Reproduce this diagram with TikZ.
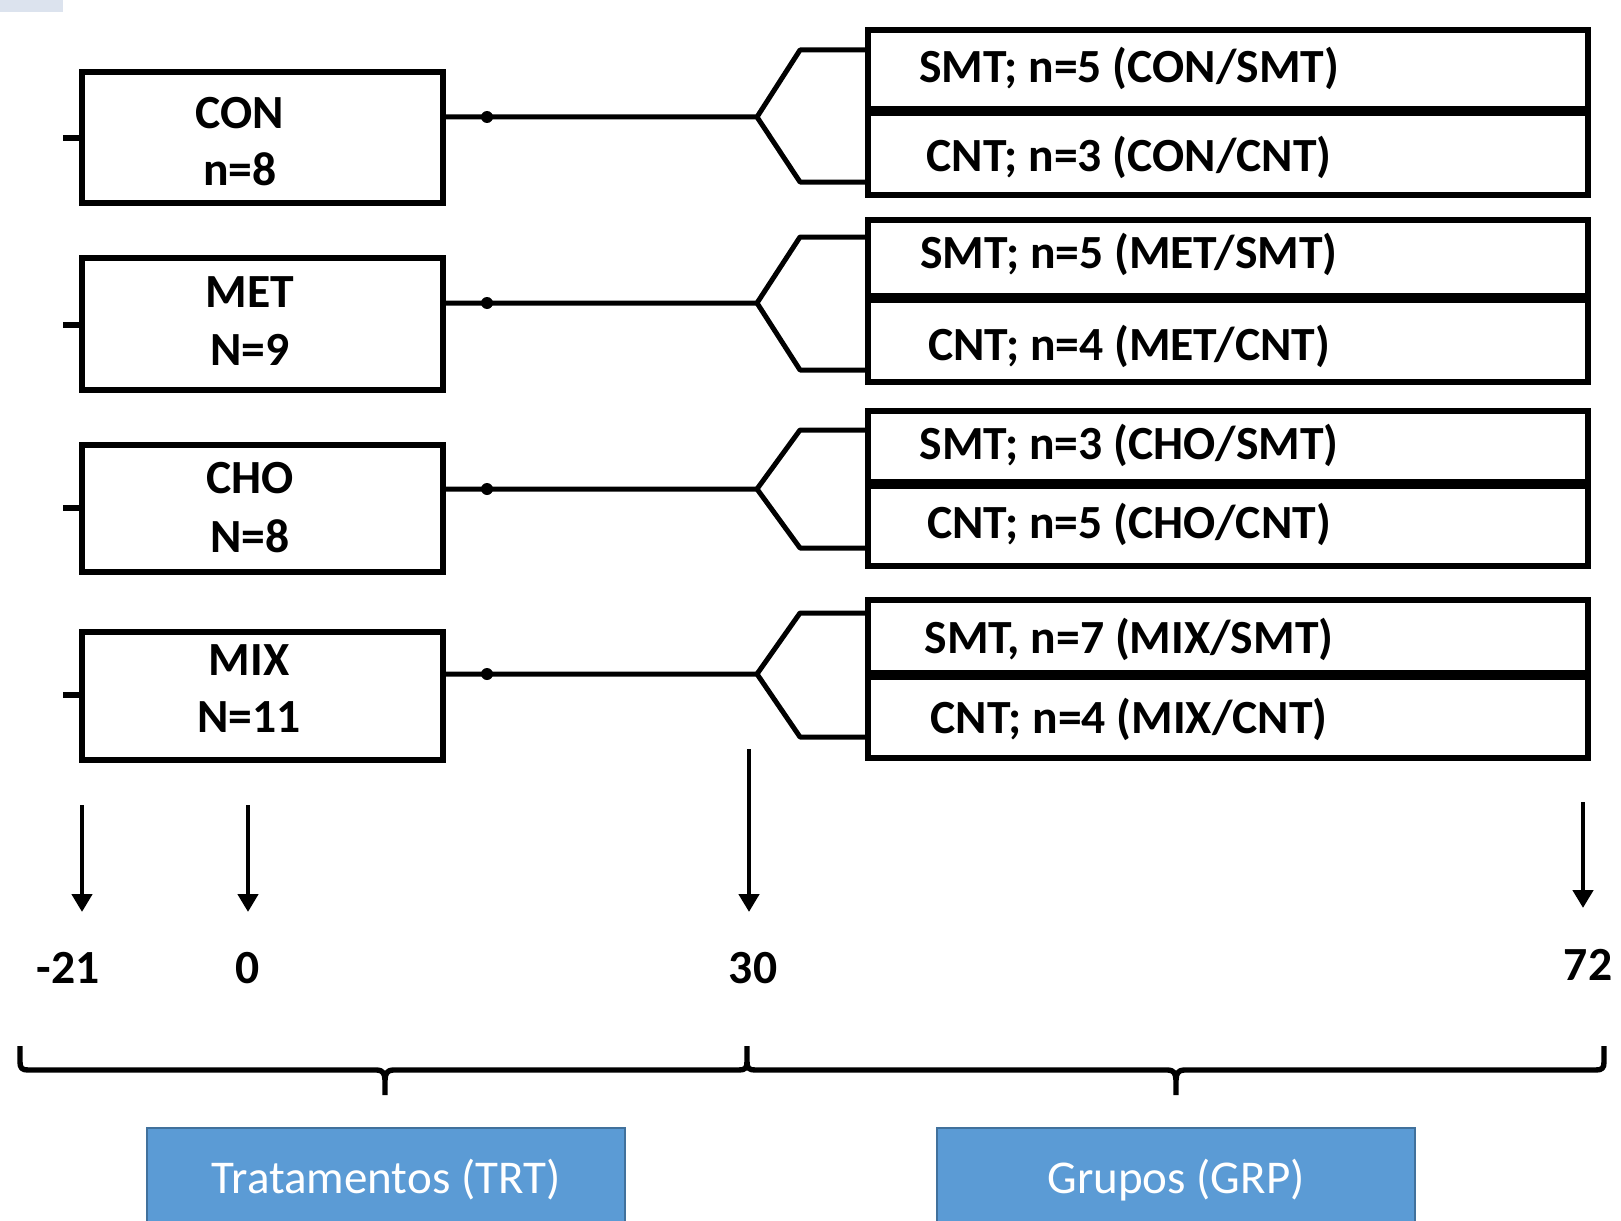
\documentclass[tikz,border=0pt]{standalone}
\usepackage{fontspec}
\setmainfont{Carlito}
\usetikzlibrary{arrows.meta}
\definecolor{bluefill}{HTML}{5B9BD5}
\definecolor{blueedge}{HTML}{41719C}
\definecolor{stripe}{HTML}{DCE3EE}
\begin{document}
\begin{tikzpicture}[x=0.5pt,y=-0.5pt,
  tbox/.style={draw, line width=3pt, rectangle, inner sep=0pt, outer sep=0pt, fill=white},
  lbox/.style={tbox, minimum width=180.5pt},
  rbox/.style={tbox, minimum width=360pt},
  lbl/.style={font=\fontsize{23.8pt}{28pt}\selectfont\bfseries, anchor=base, inner sep=0pt},
  conn/.style={line width=2.5pt, line join=round, line cap=round},
  stub/.style={line width=3pt},
  arr/.style={line width=2.3pt, -{Triangle[width=10pt,length=9pt]}},
  brc/.style={line width=2.7pt, line join=round},
  bluebox/.style={draw=blueedge, fill=bluefill, line width=1pt, inner sep=0pt,
    minimum width=239pt, minimum height=52pt, text=white,
    font=\fontsize{23.5pt}{28pt}\selectfont}]
\useasboundingbox (0,0) rectangle (1621,1220);
\fill[white] (0,0) rectangle (1621,1220);
\fill[stripe] (0,0) rectangle (63,12);

% left treatment boxes
\node[lbox, minimum height=65.5pt] (CON) at (262.5,137.5) {};
\node[lbox, minimum height=66pt]   (MET) at (262.5,324) {};
\node[lbox, minimum height=63.5pt] (CHO) at (262.5,508.5) {};
\node[lbox, minimum height=64pt]   (MIX) at (262.5,696) {};

\node[lbl] (tCONa) at (240,128) {CON};
\node[lbl] (tCONb) at (240,185) {n=8};
\node[lbl] (tMETa) at (250,307) {MET};
\node[lbl] (tMETb) at (250,365) {N=9};
\node[lbl] (tCHOa) at (250,493) {CHO};
\node[lbl] (tCHOb) at (250,552) {N=8};
\node[lbl] (tMIXa) at (249,675) {MIX};
\node[lbl] (tMIXb) at (249,732) {N=11};

% right group boxes
\node[rbox, minimum height=39.5pt] (S1) at (1228,69.5) {};
\node[rbox, minimum height=41pt]   (C1) at (1228,154) {};
\node[rbox, minimum height=38pt]   (S2) at (1228,258) {};
\node[rbox, minimum height=41pt]   (C2) at (1228,341) {};
\node[rbox, minimum height=35.5pt] (S3) at (1228,446.5) {};
\node[rbox, minimum height=40pt]   (C3) at (1228,526) {};
\node[rbox, minimum height=36.5pt] (S4) at (1228,636.5) {};
\node[rbox, minimum height=40.5pt] (C4) at (1228,717.5) {};

\node[lbl] (tS1) at (1129,83)  {SMT; n=5 (CON/SMT)};
\node[lbl] (tC1) at (1129,171) {CNT; n=3 (CON/CNT)};
\node[lbl] (tS2) at (1129,268) {SMT; n=5 (MET/SMT)};
\node[lbl] (tC2) at (1129,360) {CNT; n=4 (MET/CNT)};
\node[lbl] (tS3) at (1129,459) {SMT; n=3 (CHO/SMT)};
\node[lbl] (tC3) at (1129,538) {CNT; n=5 (CHO/CNT)};
\node[lbl] (tS4) at (1129,653) {SMT, n=7 (MIX/SMT)};
\node[lbl] (tC4) at (1129,733) {CNT; n=4 (MIX/CNT)};

% left stubs
\coordinate (s1) at (63,138);
\coordinate (s2) at (63,325);
\coordinate (s3) at (63,508);
\coordinate (s4) at (63,695);
\draw[stub] (s1) -- (CON.west |- s1);
\draw[stub] (s2) -- (MET.west |- s2);
\draw[stub] (s3) -- (CHO.west |- s3);
\draw[stub] (s4) -- (MIX.west |- s4);

% forked connectors
\coordinate (d1) at (487,117); \coordinate (b1) at (757,117);
\coordinate (t1) at (800,50);  \coordinate (u1) at (800,182);
\coordinate (d2) at (487,303); \coordinate (b2) at (757,303);
\coordinate (t2) at (800,237); \coordinate (u2) at (800,370);
\coordinate (d3) at (487,489); \coordinate (b3) at (757,489);
\coordinate (t3) at (800,430); \coordinate (u3) at (800,548);
\coordinate (d4) at (487,674); \coordinate (b4) at (757,674);
\coordinate (t4) at (800,613); \coordinate (u4) at (800,737);

\draw[conn] (CON.east |- d1) -- (b1) -- (t1) -- (S1.west |- t1);
\draw[conn] (b1) -- (u1) -- (C1.west |- u1);
\draw[conn] (MET.east |- d2) -- (b2) -- (t2) -- (S2.west |- t2);
\draw[conn] (b2) -- (u2) -- (C2.west |- u2);
\draw[conn] (CHO.east |- d3) -- (b3) -- (t3) -- (S3.west |- t3);
\draw[conn] (b3) -- (u3) -- (C3.west |- u3);
\draw[conn] (MIX.east |- d4) -- (b4) -- (t4) -- (S4.west |- t4);
\draw[conn] (b4) -- (u4) -- (C4.west |- u4);
\foreach \d in {d1,d2,d3,d4} \fill (\d) circle[radius=3pt];

% timeline arrows and day labels
\coordinate (a1) at (82,805);   \coordinate (e1) at (82,912);
\coordinate (a2) at (248,805);  \coordinate (e2) at (248,912);
\coordinate (a3) at (749,749);  \coordinate (e3) at (749,912);
\coordinate (a4) at (1583,802); \coordinate (e4) at (1583,908);
\draw[arr] (a1) -- (e1);
\draw[arr] (a2) -- (e2);
\draw[arr] (a3) -- (e3);
\draw[arr] (a4) -- (e4);
\node[lbl] (day1) at (68,983)   {-21};
\node[lbl] (day2) at (248,983)  {0};
\node[lbl] (day3) at (753,983)  {30};
\node[lbl] (day4) at (1588,980) {72};

% braces
\draw[brc] (20,1046) -- (20,1062) .. controls (20,1068) and (22,1070) .. (28,1070)
  -- (377,1070) .. controls (382,1070) and (385,1073) .. (385,1080) -- (385,1095);
\draw[brc] (385,1080) .. controls (385,1073) and (388,1070) .. (393,1070)
  -- (739,1070) .. controls (745,1070) and (747,1068) .. (747,1062) -- (747,1046);
\draw[brc] (747,1062) .. controls (747,1068) and (749,1070) .. (755,1070)
  -- (1168,1070) .. controls (1173,1070) and (1176,1073) .. (1176,1080) -- (1176,1095);
\draw[brc] (1176,1080) .. controls (1176,1073) and (1179,1070) .. (1184,1070)
  -- (1596,1070) .. controls (1602,1070) and (1604,1068) .. (1604,1062) -- (1604,1046);

% period boxes
\node[bluebox] (TRT) at (386,1180)  {Tratamentos (TRT)};
\node[bluebox] (GRP) at (1176,1180) {Grupos (GRP)};
\end{tikzpicture}
\end{document}
